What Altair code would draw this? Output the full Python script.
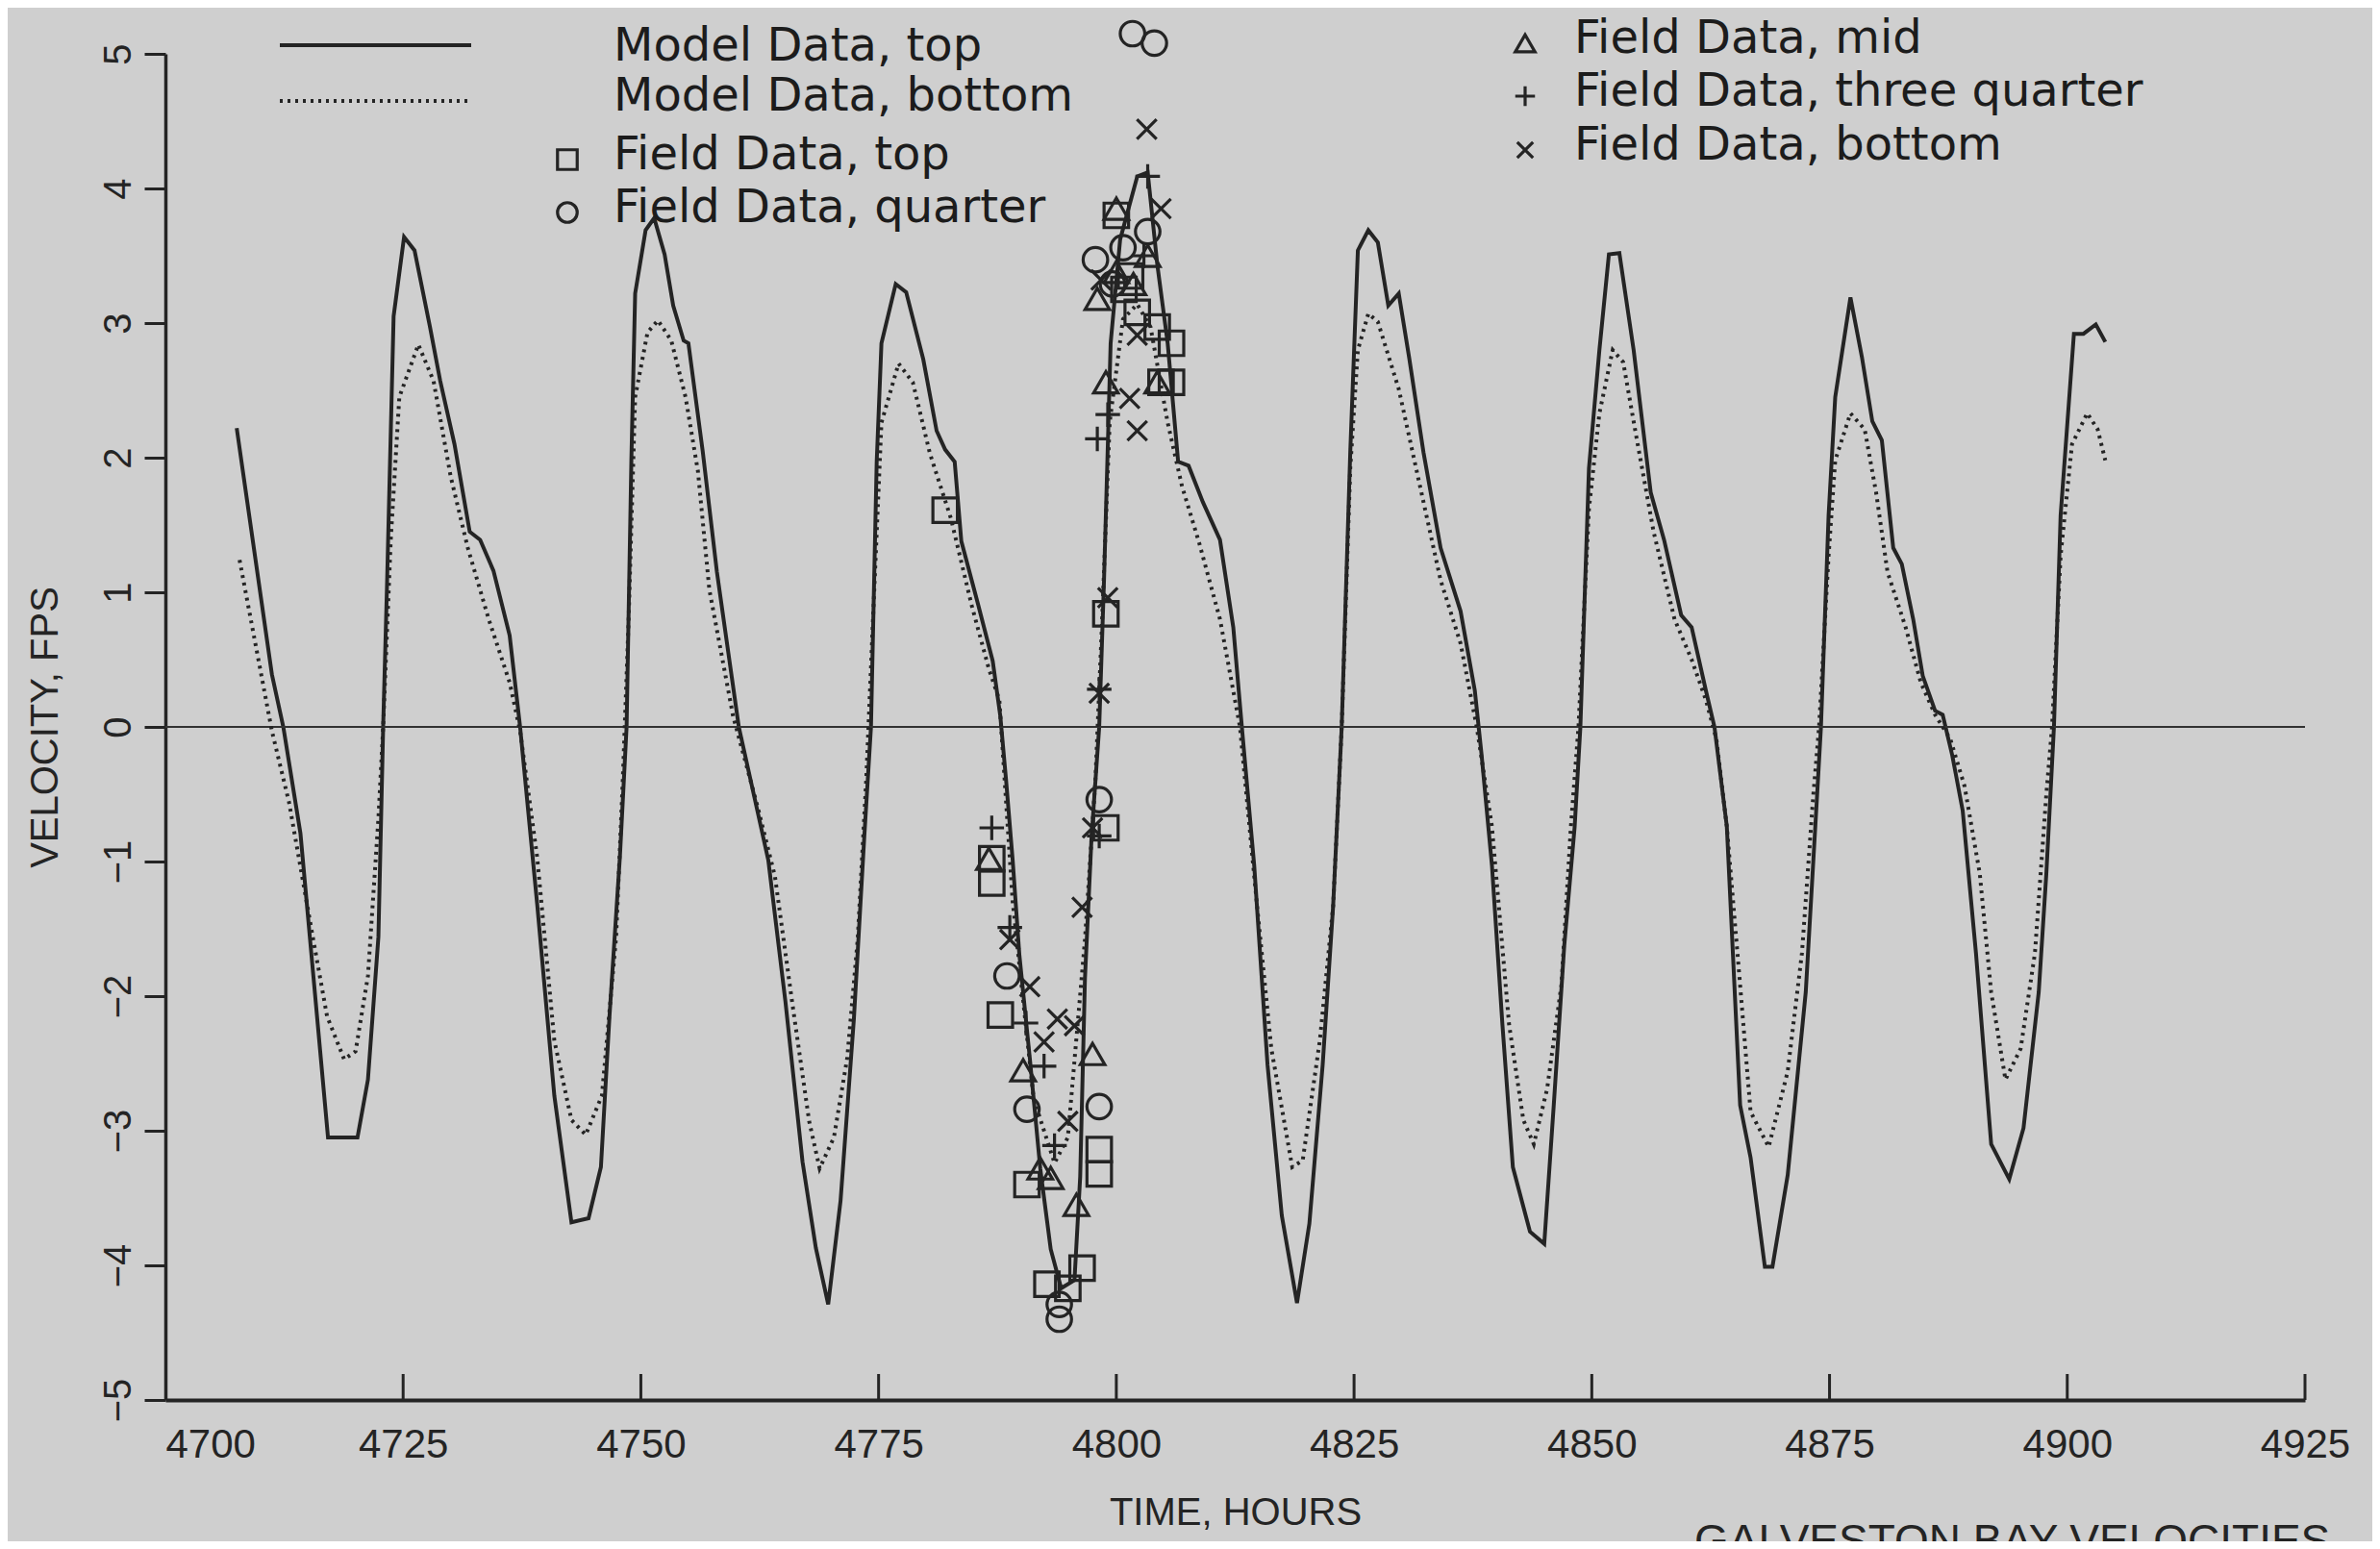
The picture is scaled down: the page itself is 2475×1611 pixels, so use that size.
import altair as alt
import pandas as pd

# ---------------- data ----------------
top_t = [4707.5, 4711.2, 4712.4, 4714.2, 4717.1, 4720.2, 4721.3, 4722.4, 4722.9, 4723.3,
         4724.0, 4725.1, 4726.2, 4727.8, 4728.9, 4730.4, 4732.0, 4733.1, 4734.5, 4736.2,
         4737.3, 4739.1, 4740.9, 4742.7, 4744.5, 4745.8, 4746.7, 4747.8, 4748.5, 4749.0,
         4749.4, 4750.5, 4751.4, 4752.5, 4753.4, 4754.5, 4755.0, 4756.5, 4758.0, 4759.2,
         4760.3, 4761.9, 4763.4, 4765.2, 4767.0, 4768.4, 4769.7, 4771.0, 4772.4, 4773.5,
         4774.2, 4774.8, 4775.3, 4776.8, 4777.9, 4779.7, 4781.1, 4782.0, 4783.0, 4783.7,
         4785.5, 4787.0, 4787.8, 4788.4, 4789.1, 4789.8, 4790.9, 4792.0, 4793.1, 4794.2,
         4795.6, 4796.2, 4796.7, 4797.4, 4798.2, 4798.7, 4799.1, 4799.4, 4800.4, 4802.2,
         4803.3, 4804.3, 4805.4, 4806.5, 4807.6, 4809.1, 4810.9, 4812.3, 4813.2, 4814.5,
         4815.9, 4817.4, 4819.0, 4820.3, 4821.7, 4822.8, 4823.7, 4824.6, 4825.4, 4826.5,
         4827.5, 4828.6, 4829.7, 4830.8, 4832.3, 4834.1, 4836.2, 4837.7, 4838.4, 4839.5,
         4840.6, 4841.7, 4843.5, 4845.0, 4846.0, 4847.1, 4848.2, 4848.8, 4849.7, 4850.8,
         4851.8, 4852.9, 4854.4, 4856.2, 4857.6, 4859.4, 4860.5, 4862.0, 4862.9, 4864.2,
         4865.6, 4866.7, 4868.2, 4869.0, 4870.6, 4872.5, 4873.7, 4874.1, 4874.9, 4875.6,
         4877.2, 4878.4, 4879.5, 4880.5, 4881.7, 4882.6, 4883.8, 4884.8, 4886.1, 4886.9,
         4887.9, 4889.0, 4890.4, 4892.0, 4893.9, 4895.4, 4897.0, 4897.8, 4898.6, 4899.3,
         4900.7, 4901.7, 4903.0, 4904.0]
top_v = [2.22, 0.39, 0.0, -0.79, -3.05, -3.05, -2.62, -1.56, 0.0, 1.04,
         3.05, 3.64, 3.54, 2.98, 2.57, 2.10, 1.45, 1.39, 1.16, 0.68,
         0.0, -1.32, -2.74, -3.68, -3.65, -3.27, -2.15, -0.96, 0.0, 1.98,
         3.22, 3.69, 3.78, 3.51, 3.13, 2.87, 2.85, 2.05, 1.15, 0.55,
         0.0, -0.51, -0.99, -2.04, -3.23, -3.87, -4.29, -3.52, -2.17, -0.81,
         0.0, 1.97, 2.85, 3.29, 3.23, 2.73, 2.20, 2.06, 1.97, 1.38,
         0.90, 0.49, 0.08, -0.39, -0.99, -1.69, -2.46, -3.28, -3.88, -4.17,
         -4.11, -3.34, -1.87, -0.81, 0.0, 1.08, 2.08, 2.85, 3.62, 4.09,
         4.12, 3.44, 2.85, 1.97, 1.94, 1.67, 1.39, 0.74, 0.0, -1.03,
         -2.51, -3.63, -4.28, -3.69, -2.51, -1.33, 0.0, 2.04, 3.54, 3.69,
         3.60, 3.13, 3.22, 2.74, 2.04, 1.33, 0.86, 0.27, -0.20, -1.03,
         -2.21, -3.27, -3.75, -3.84, -2.81, -1.63, -0.74, 0.0, 1.92, 2.80,
         3.51, 3.52, 2.80, 1.74, 1.39, 0.83, 0.74, 0.27, 0.0, -0.74,
         -2.81, -3.20, -4.01, -4.01, -3.33, -1.97, -0.50, 0.0, 1.57, 2.45,
         3.19, 2.75, 2.27, 2.13, 1.33, 1.21, 0.80, 0.38, 0.12, 0.09,
         -0.21, -0.62, -1.68, -3.10, -3.36, -2.98, -1.97, -1.09, 0.0, 1.57,
         2.92, 2.92, 2.99, 2.86]

bot_t = [4707.8, 4711.2, 4713.0, 4715.5, 4717.0, 4718.8, 4720.0, 4721.3, 4722.4, 4722.9,
         4723.7, 4724.6, 4726.6, 4728.2, 4730.0, 4731.8, 4734.0, 4736.2, 4737.3, 4739.1,
         4740.9, 4742.7, 4744.2, 4745.9, 4747.4, 4748.1, 4748.7, 4749.4, 4750.7, 4751.8,
         4753.2, 4754.7, 4756.0, 4757.2, 4759.7, 4762.3, 4764.1, 4765.9, 4767.7, 4768.8,
         4770.3, 4771.7, 4772.8, 4773.7, 4774.4, 4775.3, 4777.1, 4778.6, 4780.4, 4782.6,
         4784.8, 4786.6, 4787.7, 4789.1, 4791.3, 4793.5, 4794.9, 4796.7, 4797.8, 4798.5,
         4799.3, 4800.7, 4802.2, 4803.6, 4805.4, 4806.9, 4808.7, 4810.9, 4813.0, 4814.8,
         4816.3, 4818.5, 4819.6, 4821.4, 4822.8, 4823.7, 4824.6, 4825.4, 4826.5, 4827.5,
         4829.7, 4831.9, 4834.1, 4836.2, 4837.9, 4839.5, 4841.3, 4842.8, 4843.9, 4845.3,
         4846.8, 4847.8, 4848.6, 4849.7, 4850.8, 4852.2, 4853.3, 4854.7, 4856.5, 4858.7,
         4860.5, 4862.0, 4863.1, 4864.2, 4865.6, 4866.7, 4868.6, 4870.6, 4872.1, 4873.3,
         4873.9, 4874.9, 4875.6, 4877.2, 4878.7, 4879.9, 4881.1, 4883.0, 4884.6, 4886.1,
         4887.7, 4889.2, 4890.8, 4892.0, 4893.5, 4895.1, 4896.6, 4897.8, 4898.4, 4899.3,
         4900.5, 4902.1, 4903.2, 4904.0]
bot_v = [1.24, -0.03, -0.56, -1.56, -2.15, -2.47, -2.41, -1.85, -0.68, 0.0,
         1.39, 2.45, 2.84, 2.57, 1.86, 1.33, 0.80, 0.33, -0.03, -0.97,
         -2.33, -2.92, -3.03, -2.74, -1.56, -0.39, 0.77, 2.45, 2.93, 3.02,
         2.87, 2.45, 1.90, 1.02, 0.08, -0.60, -1.11, -2.04, -2.93, -3.28,
         -3.05, -2.46, -1.58, -0.39, 0.78, 2.26, 2.70, 2.56, 2.03, 1.55,
         0.90, 0.43, 0.20, -1.30, -2.76, -3.24, -3.05, -1.58, -0.39, 0.78,
         2.26, 3.03, 3.14, 2.97, 2.26, 1.79, 1.37, 0.80, 0.0, -1.33,
         -2.39, -3.27, -3.22, -2.33, -1.33, 0.0, 1.92, 2.80, 3.07, 3.01,
         2.51, 1.80, 1.09, 0.62, 0.0, -0.74, -2.21, -2.92, -3.10, -2.69,
         -1.92, -0.74, 0.0, 1.62, 2.33, 2.80, 2.71, 2.15, 1.45, 0.80,
         0.50, 0.20, -0.09, -0.74, -1.92, -2.86, -3.12, -2.56, -1.68, -0.50,
         0.0, 1.27, 1.98, 2.33, 2.21, 1.74, 1.15, 0.74, 0.33, 0.09,
         -0.09, -0.44, -1.09, -1.97, -2.62, -2.39, -1.68, -0.50, 0.0, 1.27,
         2.10, 2.33, 2.21, 1.98]

fd_top_t = [4782.0, 4786.9, 4786.9, 4787.8, 4790.6, 4792.7, 4794.9, 4796.4, 4798.2, 4798.2,
            4798.9, 4798.9, 4800.0, 4800.8, 4801.5, 4802.2, 4804.3, 4805.8, 4805.8, 4804.7]
fd_top_v = [1.61, -0.98, -1.16, -2.14, -3.40, -4.14, -4.17, -4.02, -3.14, -3.32,
            -0.75, 0.84, 3.80, 3.25, 3.35, 3.08, 2.97, 2.85, 2.56, 2.56]

fd_quarter_t = [4788.5, 4790.6, 4794.0, 4794.0, 4798.2, 4798.2, 4797.8, 4799.6, 4800.7, 4803.3,
                4801.7, 4804.0]
fd_quarter_v = [-1.85, -2.84, -4.40, -4.29, -2.82, -0.54, 3.47, 3.29, 3.56, 3.68,
                5.15, 5.08]

fd_mid_t = [4786.6, 4790.2, 4792.0, 4793.1, 4797.5, 4795.8, 4798.9, 4798.0, 4800.0, 4801.8,
            4803.3, 4804.3, 4800.0]
fd_mid_v = [-0.98, -2.55, -3.28, -3.35, -2.43, -3.55, 2.56, 3.18, 3.38, 3.29,
            3.50, 2.56, 3.85]

fd_3q_t = [4786.9, 4788.8, 4790.5, 4792.4, 4793.5, 4798.2, 4798.2, 4798.0, 4799.1, 4803.3,
           4802.9]
fd_3q_v = [-0.75, -1.49, -2.20, -2.52, -3.11, -0.81, 0.28, 2.14, 2.32, 4.09,
           3.50]

fd_bot_t = [4788.8, 4790.9, 4792.4, 4793.8, 4795.6, 4794.9, 4796.4, 4797.5, 4798.2, 4799.1,
            4801.4, 4802.2, 4802.2, 4804.7, 4798.4, 4803.2]
fd_bot_v = [-1.58, -1.93, -2.34, -2.17, -2.22, -2.93, -1.34, -0.75, 0.25, 0.96,
            2.44, 2.20, 2.91, 3.85, 3.32, 4.44]

x_ticks = [4700, 4725, 4750, 4775, 4800, 4825, 4850, 4875, 4900, 4925]
y_ticks = [-5, -4, -3, -2, -1, 0, 1, 2, 3, 4, 5]

series_names = ["Model Data, top", "Model Data, bottom"]
field_names = ["Field Data, top", "Field Data, quarter", "Field Data, mid",
               "Field Data, three quarter", "Field Data, bottom"]

# ---------------- styling ----------------
W, H = 2225, 1400
BG = "#cfcfcf"
INK = "#242424"
AXFONT = "Liberation Sans"
LGFONT = "DejaVu Sans"
PLUS = "M-1,0H1M0,-1V1"
XMARK = "M-0.8,-0.8L0.8,0.8M-0.8,0.8L0.8,-0.8"
shape_range = ["square", "circle", "triangle-up", PLUS, XMARK]
SOLID_W = 4
DOT_W = 4
DOT_DASH = [3, 5]

x_scale = alt.Scale(domain=[4700, 4925], nice=False, zero=False)
y_scale = alt.Scale(domain=[-5, 5], nice=False, zero=False)

x_axis = alt.Axis(values=x_ticks, format="d", ticks=False, grid=False, domainColor=INK,
                  domainWidth=4,
                  labelFont=AXFONT, labelFontSize=42, labelColor=INK, labelPadding=26,
                  labelAlign={"condition": {"test": "datum.value == 4700", "value": "left"},
                              "value": "center"},
                  title="TIME, HOURS", titleFont=AXFONT, titleFontSize=40,
                  titleFontWeight="normal", titleColor=INK, titlePadding=30)
y_axis = alt.Axis(values=y_ticks, grid=False, format="d", domainColor=INK, domainWidth=3.5,
                  tickColor=INK, tickWidth=3, tickSize=22,
                  labelFont=AXFONT, labelFontSize=40, labelColor=INK, labelAngle=270,
                  labelAlign="center", labelBaseline="alphabetic", labelPadding=15,
                  title="VELOCITY, FPS", titleFont=AXFONT, titleFontSize=40,
                  titleFontWeight="normal", titleColor=INK, titlePadding=36)

top_df = pd.DataFrame({"t": top_t, "v": top_v})
bot_df = pd.DataFrame({"t": bot_t, "v": bot_v})

field_df = pd.concat([
    pd.DataFrame({"t": fd_top_t, "v": fd_top_v, "s": field_names[0]}),
    pd.DataFrame({"t": fd_quarter_t, "v": fd_quarter_v, "s": field_names[1]}),
    pd.DataFrame({"t": fd_mid_t, "v": fd_mid_v, "s": field_names[2]}),
    pd.DataFrame({"t": fd_3q_t, "v": fd_3q_v, "s": field_names[3]}),
    pd.DataFrame({"t": fd_bot_t, "v": fd_bot_v, "s": field_names[4]}),
], ignore_index=True)

base_axes = alt.Chart(top_df).mark_line(color=INK, strokeWidth=SOLID_W).encode(
    x=alt.X("t:Q", scale=x_scale, axis=x_axis),
    y=alt.Y("v:Q", scale=y_scale, axis=y_axis),
)

bottom_line = alt.Chart(bot_df).mark_line(color=INK, strokeWidth=DOT_W, strokeDash=DOT_DASH,
                                          strokeCap="butt").encode(
    x=alt.X("t:Q", scale=x_scale), y=alt.Y("v:Q", scale=y_scale))

zero_line = alt.Chart(pd.DataFrame({"z": [0]})).mark_rule(color="#333333", strokeWidth=2.2).encode(
    y=alt.Y("z:Q", scale=y_scale))

tick_df = pd.DataFrame({"tk": x_ticks[1:]})
inner_ticks = alt.Chart(tick_df).mark_rule(color=INK, strokeWidth=3).encode(
    x=alt.X("tk:Q", scale=x_scale), y=alt.value(H), y2=alt.value(H - 27))

points = alt.Chart(field_df).mark_point(filled=False, size=650, strokeWidth=3.2, color=INK,
                                        opacity=1).encode(
    x=alt.X("t:Q", scale=x_scale),
    y=alt.Y("v:Q", scale=y_scale),
    shape=alt.Shape("s:N", scale=alt.Scale(domain=field_names, range=shape_range), legend=None),
)

# ---------------- legend drawn as annotation ----------------
one = pd.DataFrame({"a": [0]})
legend_layers = []
legend_layers.append(alt.Chart(one).mark_rule(color=INK, strokeWidth=SOLID_W).encode(
    x=alt.value(119), x2=alt.value(318), y=alt.value(-9)))
legend_layers.append(alt.Chart(one).mark_rule(color=INK, strokeWidth=DOT_W, strokeDash=DOT_DASH,
                                              strokeCap="butt").encode(
    x=alt.value(119), x2=alt.value(318), y=alt.value(49)))
legend_entries = [
    (series_names[0], 466, -7, None, None),
    (series_names[1], 466, 45, None, None),
    (field_names[0], 466, 106, "square", 418),
    (field_names[1], 466, 161, "circle", 418),
    (field_names[2], 1465, -15, "triangle-up", 1414),
    (field_names[3], 1465, 40, PLUS, 1414),
    (field_names[4], 1465, 96, XMARK, 1414),
]
for label, lx, ly, shp, sx in legend_entries:
    legend_layers.append(alt.Chart(one).mark_text(
        text=label, align="left", baseline="middle", font=LGFONT, fontSize=48, color="#1c1c1c").encode(
        x=alt.value(lx), y=alt.value(ly)))
    if shp is not None:
        legend_layers.append(alt.Chart(one).mark_point(
            shape=shp, filled=False, size=420, strokeWidth=3.2, color=INK, opacity=1).encode(
            x=alt.value(sx), y=alt.value(ly + 4)))

footer = alt.Chart(one).mark_text(
    text="GALVESTON BAY VELOCITIES", align="left", baseline="top", font=AXFONT,
    fontSize=46, color=INK).encode(x=alt.value(1590), y=alt.value(1526))

chart = alt.layer(
    base_axes, zero_line, bottom_line, inner_ticks, points, *legend_layers, footer
).properties(
    width=W, height=H,
    autosize=alt.AutoSizeParams(type="none"),
    padding={"left": 164, "top": 48, "right": 70, "bottom": 147},
    background=BG,
).configure_view(stroke=None)

chart.save("out.html", embed_options={"renderer": "svg", "actions": False})
